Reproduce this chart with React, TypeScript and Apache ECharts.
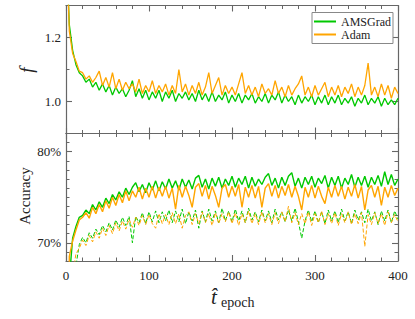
import React, { useEffect, useRef } from "react";
import * as echarts from "echarts";

const epochs: number[] = Array.from({ length: 101 }, (_, i) => i * 4);

const fAMSGrad = [
  1.5, 1.24, 1.16, 1.115, 1.09, 1.08, 1.06, 1.07, 1.045, 1.06,
  1.035, 1.055, 1.03, 1.05, 1.02, 1.045, 1.025, 1.04, 1.015, 1.035,
  1.065, 1.015, 1.04, 1.01, 1.035, 1.005, 1.03, 1.01, 1.035, 1.0,
  1.03, 1.01, 1.035, 1.0, 1.025, 1.01, 1.03, 1.005, 1.025, 1.0,
  1.035, 1.005, 1.025, 1.0, 1.03, 1.0, 1.02, 1.005, 1.03, 0.995,
  1.02, 1.0, 1.025, 0.995, 1.02, 1.005, 1.025, 0.995, 1.015, 1.0,
  1.025, 0.995, 1.02, 1.005, 1.03, 0.995, 1.02, 1.0, 1.015, 0.99,
  1.02, 0.995, 1.015, 1.0, 1.02, 0.99, 1.015, 0.995, 1.02, 0.99,
  1.015, 0.995, 1.02, 0.99, 1.01, 0.995, 1.015, 0.985, 1.01, 0.995,
  1.02, 0.99, 1.01, 0.995, 1.015, 0.985, 1.01, 0.99, 1.005, 0.99,
  1.01,
];

const fAdam = [
  1.55, 1.22, 1.15, 1.125, 1.095, 1.09, 1.07, 1.08, 1.06, 1.075,
  1.095, 1.05, 1.075, 1.045, 1.09, 1.04, 1.07, 1.035, 1.06, 1.04,
  1.055, 1.03, 1.07, 1.025, 1.05, 1.03, 1.065, 1.025, 1.05, 1.03,
  1.055, 1.02, 1.05, 1.025, 1.1, 1.03, 1.055, 1.02, 1.05, 1.025,
  1.06, 1.02, 1.045, 1.09, 1.025, 1.05, 1.075, 1.02, 1.05, 1.025,
  1.045, 1.02, 1.055, 1.09, 1.025, 1.05, 1.02, 1.045, 1.015, 1.055,
  1.025, 1.04, 1.02, 1.065, 1.025, 1.045, 1.015, 1.05, 1.02, 1.04,
  1.055, 1.08, 1.02, 1.045, 1.015, 1.05, 1.02, 1.04, 1.06, 1.015,
  1.045, 1.02, 1.05, 1.015, 1.045, 1.025, 1.055, 1.015, 1.045, 1.02,
  1.05, 1.12, 1.02, 1.045, 1.015, 1.055, 1.02, 1.05, 1.01, 1.045,
  1.025,
];

const accTrainAMSGrad = [
  40, 66, 70.5, 71.8, 72.8, 73.0, 73.6, 73.2, 74.2, 73.6,
  74.5, 73.9, 74.9, 74.3, 75.3, 74.7, 75.6, 75.0, 76.0, 75.3,
  76.1, 76.6, 75.6, 76.4, 75.5, 76.6, 75.8, 76.8, 75.7, 76.7,
  75.9, 77.0, 76.0, 76.8, 75.8, 77.0, 76.1, 76.9, 75.9, 77.1,
  77.4, 76.1, 77.0, 75.9, 77.1, 76.2, 77.2, 76.0, 77.0, 76.3,
  77.3, 76.1, 77.1, 76.4, 77.3, 76.0, 77.2, 76.2, 77.0, 76.4,
  77.2, 77.6, 76.3, 77.1, 76.0, 77.2, 76.3, 77.3, 77.7, 76.2,
  77.1, 76.0, 77.2, 76.4, 77.3, 76.1, 77.1, 76.5, 77.4, 76.0,
  77.2, 76.3, 77.3, 76.0, 77.1, 76.4, 77.5, 76.1, 77.2, 76.3,
  77.3, 76.1, 77.2, 76.4, 77.4, 76.2, 77.8, 76.4, 77.5, 76.3,
  77.0,
];

const accTrainAdam = [
  40, 68.5, 70.2, 71.4, 72.5, 72.8, 73.3, 72.7, 73.9, 73.2,
  74.2, 73.4, 74.6, 73.8, 75.0, 74.1, 75.3, 74.4, 75.7, 74.6,
  75.7, 75.0, 76.1, 74.8, 76.0, 75.0, 76.2, 74.9, 76.1, 75.1,
  76.2, 74.9, 76.0, 73.7, 76.3, 75.0, 76.2, 75.2, 73.9, 76.1,
  76.5, 75.1, 76.3, 74.8, 76.2, 75.2, 73.9, 76.0, 76.4, 75.0,
  76.2, 75.1, 76.4, 73.9, 76.1, 75.0, 76.3, 74.9, 76.2, 73.9,
  76.0, 76.5, 75.1, 76.3, 74.9, 76.2, 75.2, 76.4, 75.0, 76.2,
  75.1, 73.6, 76.1, 75.0, 76.3, 74.9, 76.2, 75.1, 74.3, 76.1,
  75.0, 76.3, 75.1, 76.2, 74.8, 76.1, 75.1, 76.4, 74.9, 76.2,
  73.6, 75.8, 76.3, 75.0, 76.2, 74.1, 76.1, 75.0, 76.3, 75.2,
  76.0,
];

const accTestAMSGrad = [
  40, 60, 66, 67.5, 69.8, 70.6, 70.0, 71.1, 70.5, 71.5,
  70.9, 71.9, 71.2, 72.2, 71.4, 72.5, 71.7, 72.8, 71.9, 72.9,
  70.0, 72.9, 72.2, 73.3, 72.1, 73.4, 72.3, 73.5, 72.2, 73.4,
  72.4, 73.6, 72.2, 73.5, 72.3, 73.7, 72.1, 73.4, 72.4, 73.6,
  71.6, 73.5, 72.3, 73.7, 72.4, 73.5, 72.2, 73.8, 72.4, 73.5,
  72.3, 73.7, 72.4, 73.5, 72.2, 73.8, 72.5, 73.4, 72.3, 73.6,
  72.4, 73.5, 72.2, 73.7, 72.5, 73.4, 72.3, 73.6, 72.4, 73.8,
  72.3, 70.5, 72.4, 73.6, 72.3, 73.5, 72.2, 73.4, 72.1, 73.6,
  72.4, 73.5, 72.2, 73.7, 72.4, 73.4, 72.1, 73.6, 72.5, 73.4,
  72.2, 73.7, 72.4, 73.4, 72.0, 73.5, 72.4, 73.6, 72.2, 73.5,
  72.6,
];

const accTestAdam = [
  40, 62, 66.5, 68.8, 69.4, 70.3, 69.7, 70.8, 70.1, 71.2,
  70.5, 71.6, 70.8, 71.9, 71.0, 72.2, 71.3, 72.4, 71.5, 72.6,
  71.7, 72.8, 71.9, 73.0, 72.0, 73.1, 72.1, 71.6, 73.2, 72.1,
  73.1, 72.0, 73.3, 72.1, 73.2, 71.6, 73.0, 73.4, 72.0, 73.2,
  72.1, 73.4, 72.2, 73.2, 71.9, 73.3, 72.1, 73.2, 72.3, 73.4,
  72.1, 73.3, 71.9, 73.2, 72.2, 73.5, 72.1, 73.2, 72.0, 73.4,
  72.2, 73.2, 72.0, 73.3, 72.1, 73.4, 72.3, 74.0, 72.2, 73.3,
  72.0, 73.2, 72.1, 73.4, 71.9, 73.2, 72.2, 73.5, 72.0, 73.2,
  72.1, 73.3, 71.9, 73.2, 72.2, 73.4, 72.0, 73.2, 72.1, 73.3,
  69.6, 73.1, 72.0, 73.3, 72.1, 73.2, 71.9, 73.4, 72.2, 73.1,
  72.3,
];

const xTicks = [0, 100, 200, 300, 400];
const fMajorTicks = [1.0, 1.2];
const accMajorTicks = [70, 80];

const GREEN = "#00c800";
const ORANGE = "#ffa500";
const AXIS = "#666666";
const FONT = "'Liberation Serif', 'DejaVu Serif', serif";

function pairs(vals: number[]) {
  return epochs.map((e, i) => [e, vals[i]]);
}

export default function App() {
  const ref = useRef<HTMLDivElement>(null);
  useEffect(() => {
    if (!ref.current) return;
    const chart = echarts.init(ref.current, undefined, { renderer: "svg" });
    const axisLine = { show: true, lineStyle: { color: AXIS, width: 1.2 } };
    const mkX = (grid: number, pos: string, labels: boolean) => ({
      type: "value",
      gridIndex: grid,
      position: pos,
      min: xTicks[0],
      max: xTicks[xTicks.length - 1],
      interval: 100,
      axisLine,
      axisTick: { show: true, inside: true, length: 6, lineStyle: { color: AXIS, width: 1.1 } },
      minorTick: { show: true, splitNumber: 5, length: 3.5, lineStyle: { color: AXIS, width: 1 } },
      axisLabel: {
        show: labels,
        margin: 8,
        color: "#222",
        fontFamily: FONT,
        fontSize: 13,
      },
      splitLine: { show: false },
      minorSplitLine: { show: false },
    });
    const mkYMinor = (grid: number, pos: string, min: number, max: number, interval: number) => ({
      type: "value",
      gridIndex: grid,
      position: pos,
      min,
      max,
      interval,
      axisLine,
      axisTick: { show: true, inside: true, length: 3.5, lineStyle: { color: AXIS, width: 1 } },
      axisLabel: { show: false },
      splitLine: { show: false },
    });
    const mkYMajor = (
      grid: number,
      pos: string,
      min: number,
      max: number,
      majors: number[],
      labels: boolean,
      fmt: (v: number) => string
    ) => ({
      type: "value",
      gridIndex: grid,
      position: pos,
      min,
      max,
      axisLine: { show: false },
      axisTick: {
        show: true,
        inside: true,
        length: 6,
        customValues: majors,
        lineStyle: { color: AXIS, width: 1.1 },
      },
      axisLabel: {
        show: labels,
        customValues: majors,
        margin: 5,
        color: "#222",
        fontFamily: FONT,
        fontSize: 13,
        formatter: fmt,
      },
      splitLine: { show: false },
    });
    const fFmt = (v: number) => v.toFixed(1);
    const aFmt = (v: number) => Math.round(v) + "%";

    const option: any = {
      animation: false,
      backgroundColor: "#ffffff",
      textStyle: { fontFamily: FONT },
      grid: [
        { left: 66, right: 17, top: 5.5, height: 128, containLabel: false },
        { left: 66, right: 17, top: 133.5, height: 127.5, containLabel: false },
      ],
      xAxis: [mkX(0, "bottom", false), mkX(0, "top", false), mkX(1, "bottom", true), mkX(1, "top", false)],
      yAxis: [
        mkYMinor(0, "left", 0.9, 1.3, 0.1),
        mkYMajor(0, "left", 0.9, 1.3, fMajorTicks, true, fFmt),
        mkYMinor(0, "right", 0.9, 1.3, 0.1),
        mkYMajor(0, "right", 0.9, 1.3, fMajorTicks, false, fFmt),
        mkYMinor(1, "left", 68, 82, 1),
        mkYMajor(1, "left", 68, 82, accMajorTicks, true, aFmt),
        mkYMinor(1, "right", 68, 82, 1),
        mkYMajor(1, "right", 68, 82, accMajorTicks, false, aFmt),
      ],
      legend: {
        left: 312,
        top: 12.5,
        orient: "vertical",
        itemWidth: 22,
        itemHeight: 2,
        itemGap: 1,
        padding: [3, 2, 3, 2],
        borderColor: "#888",
        borderWidth: 1,
        borderRadius: 0,
        backgroundColor: "#ffffff",
        textStyle: { fontFamily: FONT, fontSize: 12, color: "#222", lineHeight: 12 },
        data: [
          { name: "AMSGrad", icon: "rect" },
          { name: "Adam", icon: "rect" },
        ],
      },
      series: [
        {
          name: "AMSGrad",
          type: "line",
          xAxisIndex: 0,
          yAxisIndex: 0,
          data: pairs(fAMSGrad),
          showSymbol: false,
          color: GREEN,
          lineStyle: { color: GREEN, width: 1.3 },
        },
        {
          name: "Adam",
          type: "line",
          xAxisIndex: 0,
          yAxisIndex: 0,
          data: pairs(fAdam),
          showSymbol: false,
          color: ORANGE,
          lineStyle: { color: ORANGE, width: 1.3 },
        },
        {
          name: "AMSGrad",
          type: "line",
          xAxisIndex: 2,
          yAxisIndex: 4,
          data: pairs(accTestAMSGrad),
          showSymbol: false,
          color: GREEN,
          lineStyle: { color: GREEN, width: 1, type: [4, 2] },
        },
        {
          name: "Adam",
          type: "line",
          xAxisIndex: 2,
          yAxisIndex: 4,
          data: pairs(accTestAdam),
          showSymbol: false,
          color: ORANGE,
          lineStyle: { color: ORANGE, width: 1, type: [4, 2] },
        },
        {
          name: "AMSGrad",
          type: "line",
          xAxisIndex: 2,
          yAxisIndex: 4,
          data: pairs(accTrainAMSGrad),
          showSymbol: false,
          color: GREEN,
          lineStyle: { color: GREEN, width: 1.4 },
        },
        {
          name: "Adam",
          type: "line",
          xAxisIndex: 2,
          yAxisIndex: 4,
          data: pairs(accTrainAdam),
          showSymbol: false,
          color: ORANGE,
          lineStyle: { color: ORANGE, width: 1.4 },
        },
      ],
      graphic: [
        {
          type: "text",
          x: 26,
          y: 70,
          rotation: Math.PI / 2,
          style: {
            text: "f",
            font: `italic 19px ${FONT}`,
            fill: "#222",
            textAlign: "center",
            textVerticalAlign: "middle",
          },
        },
        {
          type: "text",
          x: 25,
          y: 196,
          rotation: Math.PI / 2,
          style: {
            text: "Accuracy",
            font: `15px ${FONT}`,
            fill: "#222",
            textAlign: "center",
            textVerticalAlign: "middle",
          },
        },
        {
          type: "text",
          x: 214,
          y: 297,
          style: {
            text: "t\u0302",
            font: `italic 21px ${FONT}`,
            fill: "#222",
            textAlign: "center",
            textVerticalAlign: "middle",
          },
        },
        {
          type: "text",
          x: 221,
          y: 302,
          style: {
            text: "epoch",
            font: `14px ${FONT}`,
            fill: "#222",
            textAlign: "left",
            textVerticalAlign: "middle",
          },
        },
      ],
    };
    chart.setOption(option);
    return () => chart.dispose();
  }, []);
  return (
    <div
      ref={ref}
      style={{ position: "fixed", left: 0, top: 0, width: 415, height: 319, background: "#fff" }}
    />
  );
}
